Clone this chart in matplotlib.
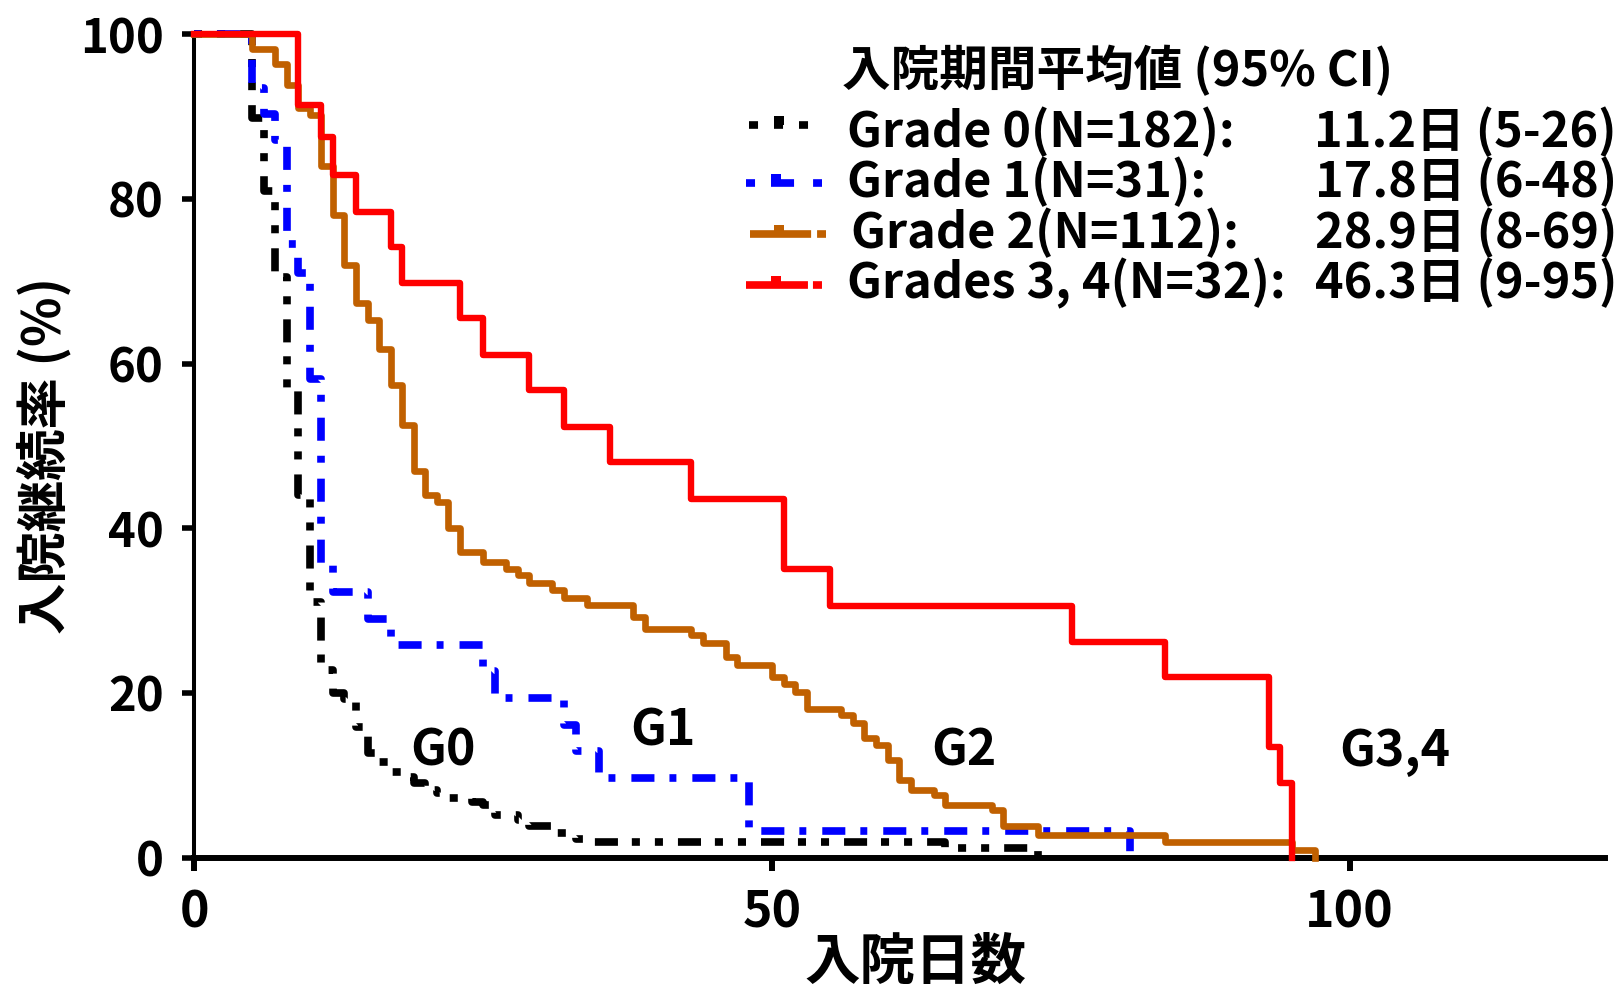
import matplotlib
matplotlib.use("Agg")
import matplotlib.pyplot as plt
from matplotlib.lines import Line2D
from matplotlib.patches import Rectangle

plt.rcParams['font.family'] = ['Noto Sans CJK JP', 'DejaVu Sans']
plt.rcParams['lines.scale_dashes'] = False

# Kaplan-Meier steps: day of each drop and the rate (%) after it
g0_days = [5, 6, 7, 8, 9, 10, 11, 12, 13, 14, 15, 16, 17, 18, 19, 20, 21, 22,
           24, 25, 26, 28, 29, 31, 33, 34, 65, 73]
g0_pct = [89.8, 81.0, 70.5, 56.8, 44.0, 31.0, 22.8, 20.0, 19.3, 15.9, 12.7, 11.6,
          10.4, 9.8, 9.0, 8.2, 7.8, 7.2, 6.8, 6.4, 5.2, 4.6, 3.8, 3.0, 2.3, 1.9,
          1.1, 0.0]

g1_days = [5, 6, 7, 8, 9, 10, 11, 12, 15, 17, 25, 26, 32, 33, 35, 48, 81]
g1_pct = [93.5, 90.3, 87.1, 74.5, 71.0, 58.1, 35.5, 32.3, 29.0, 25.8, 22.6, 19.4,
          16.1, 12.9, 9.7, 3.2, 0.0]

g2_days = [5, 7, 8, 9, 10, 11, 12, 13, 14, 15, 16, 17, 18, 19, 20, 21, 22, 23,
           25, 27, 28, 29, 31, 32, 34, 38, 39, 43, 44, 46, 47, 50, 51, 52, 53,
           56, 57, 58, 59, 60, 61, 62, 64, 65, 69, 70, 73, 84, 95, 97]
g2_pct = [98.2, 96.4, 93.8, 91.1, 90.2, 84.0, 78.0, 72.0, 67.3, 65.3, 61.8, 57.4,
          52.5, 46.9, 44.0, 43.2, 40.0, 37.1, 35.9, 35.1, 34.3, 33.3, 32.5, 31.5,
          30.7, 29.2, 27.8, 27.0, 26.0, 24.4, 23.4, 21.9, 21.1, 20.1, 18.1, 17.3,
          16.3, 14.5, 13.7, 11.8, 9.4, 8.2, 7.6, 6.4, 5.8, 3.8, 2.7, 1.9, 0.9, 0.0]

g34_days = [9, 11, 12, 14, 17, 18, 23, 25, 29, 32, 36, 43, 51, 55, 76, 84, 93, 94, 95]
g34_pct = [91.4, 87.5, 82.9, 78.4, 74.2, 69.8, 65.5, 61.0, 56.8, 52.3, 48.0, 43.6,
           35.1, 30.5, 26.2, 21.9, 13.4, 9.0, 0.0]

legend_labels = ["Grade 0(N=182):", "Grade 1(N=31):", "Grade 2(N=112):",
                 "Grades 3, 4(N=32):"]
legend_values = ["11.2日 (5-26)", "17.8日 (6-48)", "28.9日 (8-69)", "46.3日 (9-95)"]
group_tags = ["G0", "G1", "G2", "G3,4"]
tag_x = [21.5, 40.6, 66.6, 103.9]
tag_y = [12.9, 15.4, 12.9, 12.9]

W, H = 1624, 989


def fx(px):
    return px / W


def fy(py):
    return 1 - py / H


fig = plt.figure(figsize=(16.24, 9.89), dpi=100)
ax = fig.add_axes([fx(194.3), fy(857.5), fx(1605) - fx(194.3), fy(34.3) - fy(857.5)])

styles = [
    dict(color='black', lw=5.5, dashes=[5.8, 10.8, 5.8, 10.8, 16.6, 10.0], zorder=3),
    dict(color='#0000ff', lw=5.5, dashes=[5.0, 11.5, 16.6, 10.8], zorder=4),
    dict(color='#c06000', lw=4.8, zorder=5),
    dict(color='#ff0000', lw=4.6, zorder=6),
]
series = [(g0_days, g0_pct), (g1_days, g1_pct), (g2_days, g2_pct), (g34_days, g34_pct)]

for (d, p), st in zip(series, styles):
    ax.step([0] + d, [100] + p, where='post', clip_on=False, **st)

for t, x, y in zip(group_tags, tag_x, tag_y):
    ax.text(x, y, t, ha='center', va='center', fontsize=36, fontweight='bold')

ax.set_xlim(0, 122.1)
ax.set_ylim(0, 100)
ax.set_xticks([0, 50, 100])
ax.set_yticks([0, 20, 40, 60, 80, 100])
ax.spines['top'].set_visible(False)
ax.spines['right'].set_visible(False)
ax.spines['left'].set_linewidth(2.9)
ax.spines['bottom'].set_linewidth(4.3)
ax.tick_params(axis='y', direction='out', length=9, width=4, pad=13, labelsize=34)
ax.tick_params(axis='x', direction='out', length=9.5, width=4.3, pad=12, labelsize=36)
for lab in ax.get_xticklabels() + ax.get_yticklabels():
    lab.set_fontweight('bold')

fig.text(fx(44), fy(456), "入院継続率 (%)", rotation=90, ha='center', va='center',
         fontsize=37, fontweight='bold')
fig.text(fx(915), fy(963), "入院日数", ha='center', va='center',
         fontsize=40, fontweight='bold')

# legend block drawn by hand
fig.text(fx(842), fy(86), "入院期間平均値 (95% CI)", ha='left', va='baseline',
         fontsize=35, fontweight='bold')
row_base = [146.7, 196.7, 248, 298]
row_x = [847, 847, 851, 847]
line_y = [125, 182.7, 233.7, 285.3]
leg_dashes = [
    [6.5, 11.5],
    [6.5, 11.5, 16.6, 13.7, 6.5, 20],
    [44, 4.3, 6.5, 20],
    [44.6, 3.6, 6.5, 20],
]
leg_x = [(749, 812), (746, 822), (750, 826), (746, 822)]
bump_x = [774, 771, 774, 771]
for i in range(4):
    fig.text(fx(row_x[i]), fy(row_base[i]), legend_labels[i], ha='left', va='baseline',
             fontsize=35, fontweight='bold')
    fig.text(fx(1617), fy(row_base[i]), legend_values[i], ha='right', va='baseline',
             fontsize=35, fontweight='bold')
    x0, x1 = leg_x[i]
    fig.add_artist(Line2D([fx(x0), fx(x1)], [fy(line_y[i]), fy(line_y[i])],
                          transform=fig.transFigure, color=styles[i]['color'],
                          lw=5.5, dashes=leg_dashes[i], solid_capstyle='butt'))
    fig.add_artist(Rectangle((fx(bump_x[i]), fy(line_y[i])), fx(10), 9 / H,
                             transform=fig.transFigure, color=styles[i]['color'], lw=0))

fig.savefig("out.png", dpi=100)
